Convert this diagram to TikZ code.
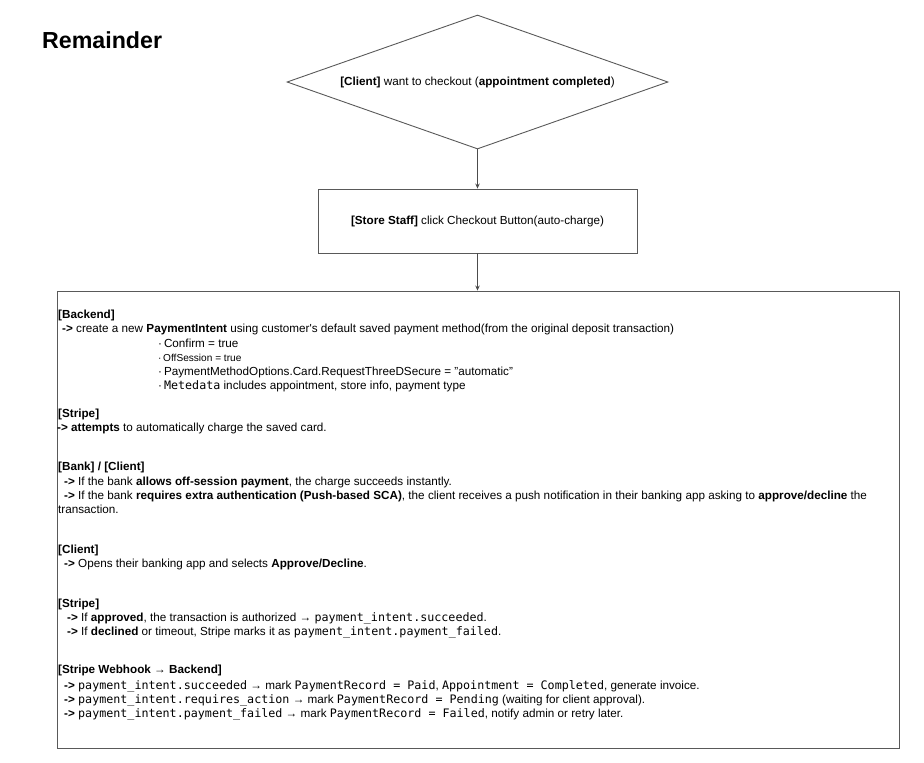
\documentclass[tikz,border=0pt]{standalone}
\usepackage{fontspec}
\setmainfont{Liberation Sans}
\setmonofont{DejaVu Sans Mono}
\usetikzlibrary{shapes.geometric,arrows.meta}
\newcommand{\mn}[1]{{\fontsize{11.7}{14}\selectfont\ttfamily #1}}
\tikzset{
  shapeline/.style={draw=black!65, line width=0.9pt},
  conn/.style={draw=black!70, line width=0.9pt, -{Stealth[length=5pt,width=4.5pt]}},
  txt/.style={anchor=base west, inner sep=0pt, font=\fontsize{11.7}{14}\selectfont},
  smalltxt/.style={anchor=base west, inner sep=0pt, font=\fontsize{10.1}{12}\selectfont},
  boxtxt/.style={font=\fontsize{11.7}{14}\selectfont, inner sep=0pt}
}
\begin{document}
\begin{tikzpicture}[x=1pt,y=-1pt]
\useasboundingbox (0,0) rectangle (924,763);
\node[anchor=base west, inner sep=0pt, font=\fontsize{23.2}{28}\selectfont\bfseries] (title) at (42,48) {Remainder};

\node[shapeline, boxtxt, diamond, shape aspect=2.843, minimum width=381pt, minimum height=134pt] (ask) at (477.5,82)
  {\textbf{[Client]} want to checkout (\textbf{appointment completed})};
\node[shapeline, boxtxt, rectangle, minimum width=319pt, minimum height=64pt] (staff) at (477.5,221)
  {\textbf{[Store Staff]} click Checkout Button(auto-charge)};
\node[shapeline, rectangle, minimum width=842pt, minimum height=457pt, inner sep=0pt] (panel) at (478,519.5) {};

\draw[conn] (ask.south) -- (staff.north);
\draw[conn] (staff.south) -- (staff.south |- panel.north);

\node[txt] (l1) at (58,318) {\textbf{[Backend]}};
\node[txt] (l2) at (62,332) {\textbf{->} create a new \textbf{PaymentIntent} using customer\textquotesingle s default saved payment method(from the original deposit transaction)};
\node[txt] (l3) at (158,347) {·\,Confirm = true};
\node[smalltxt] (l4) at (158,361) {·\,OffSession = true};
\node[txt] (l5) at (158,375) {·\,PaymentMethodOptions.Card.RequestThreeDSecure = "automatic"};
\node[txt] (l6) at (158,389) {·\,\mn{Metedata} includes appointment, store info, payment type};

\node[txt] (l7) at (58,417) {\textbf{[Stripe]}};
\node[txt] (l8) at (57,431) {\textbf{->} \textbf{attempts} to automatically charge the saved card.};

\node[txt] (l9) at (58,470) {\textbf{[Bank] / [Client]}};
\node[txt] (l10) at (64,485) {\textbf{->} If the bank \textbf{allows off-session payment}, the charge succeeds instantly.};
\node[txt] (l11) at (64,499) {\textbf{->} If the bank \textbf{requires extra authentication (Push-based SCA)}, the client receives a push notification in their banking app asking to \textbf{approve/decline} the};
\node[txt] (l12) at (58,513) {transaction.};

\node[txt] (l13) at (58,553) {\textbf{[Client]}};
\node[txt] (l14) at (64,567) {\textbf{->} Opens their banking app and selects \textbf{Approve/Decline}.};

\node[txt] (l15) at (58,607) {\textbf{[Stripe]}};
\node[txt] (l16) at (67,621) {\textbf{->} If \textbf{approved}, the transaction is authorized → \mn{payment\_intent.succeeded}.};
\node[txt] (l17) at (67,635) {\textbf{->} If \textbf{declined} or timeout, Stripe marks it as \mn{payment\_intent.payment\_failed}.};

\node[txt] (l18) at (58,673) {\textbf{[Stripe Webhook → Backend]}};
\node[txt] (l19) at (64,689) {\textbf{->} \mn{payment\_intent.succeeded} → mark \mn{PaymentRecord = Paid}, \mn{Appointment = Completed}, generate invoice.};
\node[txt] (l20) at (64,703) {\textbf{->} \mn{payment\_intent.requires\_action} → mark \mn{PaymentRecord = Pending} (waiting for client approval).};
\node[txt] (l21) at (64,717) {\textbf{->} \mn{payment\_intent.payment\_failed} → mark \mn{PaymentRecord = Failed}, notify admin or retry later.};
\end{tikzpicture}
\end{document}
